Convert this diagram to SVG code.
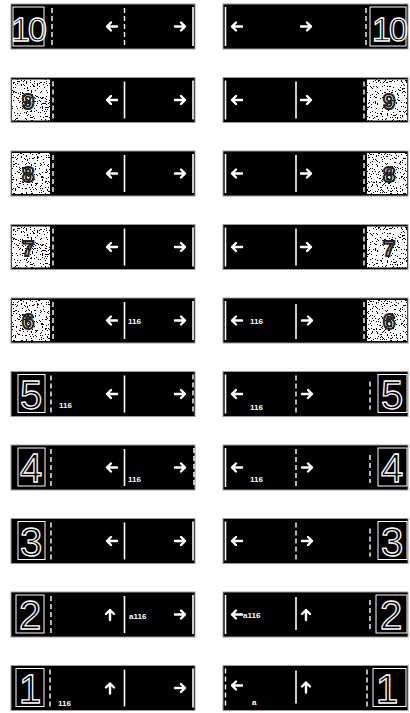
<svg xmlns="http://www.w3.org/2000/svg" width="410" height="713" viewBox="0 0 410 713">
<style>
.bar{fill:#000;stroke:#9a9a9a;stroke-width:1}
.ln{stroke:#fff;stroke-width:1.6}
.dl{stroke:#fff;stroke-width:1.4;stroke-dasharray:5 3}
.ar{fill:none;stroke:#fff;stroke-width:2.4;stroke-linecap:round;stroke-linejoin:round}
.num{font-family:"Liberation Sans",Arial,sans-serif;font-size:40px;fill:none;stroke:#fff;stroke-width:1.3;text-anchor:middle}
.n10{font-size:34px;letter-spacing:-2px}
.sm{font-family:"Liberation Sans",Arial,sans-serif;font-size:8px;font-weight:bold;fill:#fff}
.frame{fill:none;stroke:#fff;stroke-width:1}
.pic{font-family:"Liberation Sans",Arial,sans-serif;font-size:22px;font-weight:bold;fill:none;stroke:#222;stroke-width:2;text-anchor:middle}
.sp{fill:#fff;filter:url(#speckle)}
</style>
<defs>
<filter id="speckle" x="0" y="0" width="1" height="1" filterUnits="objectBoundingBox" color-interpolation-filters="sRGB">
<feTurbulence type="fractalNoise" baseFrequency="0.8" numOctaves="2" seed="4" result="n"/>
<feColorMatrix in="n" type="saturate" values="0" result="g"/>
<feComponentTransfer in="g" result="t">
<feFuncR type="discrete" tableValues="0 0 0 0 1 1 1 1 1 1"/>
<feFuncG type="discrete" tableValues="0 0 0 0 1 1 1 1 1 1"/>
<feFuncB type="discrete" tableValues="0 0 0 0 1 1 1 1 1 1"/>
<feFuncA type="linear" slope="0" intercept="1"/>
</feComponentTransfer>
<feComposite in="t" in2="SourceGraphic" operator="in"/>
</filter>
<path id="al" class="ar" d="M5,0H-5M-1,-4L-5,0L-1,4"/>
<path id="arr" class="ar" d="M-5,0H5M1,-4L5,0L1,4"/>
<path id="au" class="ar" d="M0,5V-5M-4,-1L0,-5L4,-1"/>
</defs>
<rect width="410" height="713" fill="#fff"/>

<!-- Row 10 -->
<g id="sign-L10" transform="translate(0,4)">
<rect class="bar" x="11" y="0" width="184" height="45"/>
<rect class="frame" x="13" y="3" width="31" height="39"/>
<text class="num n10" x="28" y="37">10</text>
<line class="dl" x1="52" y1="4" x2="52" y2="41"/>
<use href="#al" x="112" y="22.5"/>
<line class="dl" x1="124.5" y1="4" x2="124.5" y2="41"/>
<use href="#arr" x="180" y="22.5"/>
<line class="ln" x1="193" y1="3" x2="193" y2="42"/>
</g>
<g id="sign-R10" transform="translate(0,4)">
<rect class="bar" x="223" y="0" width="185" height="45"/>
<line class="ln" x1="225.5" y1="3" x2="225.5" y2="42"/>
<use href="#al" x="237" y="22.5"/>
<use href="#arr" x="306" y="22.5"/>
<line class="dl" x1="366" y1="4" x2="366" y2="41"/>
<rect class="frame" x="370" y="3" width="36" height="39"/>
<text class="num n10" x="389" y="37">10</text>
</g>

<!-- Row 9 -->
<g id="sign-L9" transform="translate(0,77.5)">
<rect class="bar" x="11" y="0" width="184" height="45"/>
<rect class="sp" x="12" y="2" width="38" height="41"/>
<text class="pic" x="28" y="31">9</text>
<line class="dl" x1="53" y1="4" x2="53" y2="41"/>
<use href="#al" x="112" y="22.5"/>
<line class="ln" x1="124.5" y1="4" x2="124.5" y2="41"/>
<use href="#arr" x="180" y="22.5"/>
<line class="ln" x1="193" y1="3" x2="193" y2="42"/>
</g>
<g id="sign-R9" transform="translate(0,77.5)">
<rect class="bar" x="223" y="0" width="185" height="45"/>
<line class="ln" x1="225.5" y1="3" x2="225.5" y2="42"/>
<use href="#al" x="237" y="22.5"/>
<line class="ln" x1="296" y1="4" x2="296" y2="41"/>
<use href="#arr" x="306" y="22.5"/>
<line class="dl" x1="364" y1="4" x2="364" y2="41"/>
<rect class="sp" x="367" y="2" width="40" height="41"/>
<text class="pic" x="389" y="31">9</text>
</g>

<!-- Row 8 -->
<g id="sign-L8" transform="translate(0,151)">
<rect class="bar" x="11" y="0" width="184" height="45"/>
<rect class="sp" x="12" y="2" width="38" height="41"/>
<text class="pic" x="28" y="31">8</text>
<line class="dl" x1="53" y1="4" x2="53" y2="41"/>
<use href="#al" x="112" y="22.5"/>
<line class="ln" x1="124.5" y1="4" x2="124.5" y2="41"/>
<use href="#arr" x="180" y="22.5"/>
<line class="ln" x1="193" y1="3" x2="193" y2="42"/>
</g>
<g id="sign-R8" transform="translate(0,151)">
<rect class="bar" x="223" y="0" width="185" height="45"/>
<line class="ln" x1="225.5" y1="3" x2="225.5" y2="42"/>
<use href="#al" x="237" y="22.5"/>
<line class="ln" x1="296" y1="4" x2="296" y2="41"/>
<use href="#arr" x="306" y="22.5"/>
<line class="dl" x1="364" y1="4" x2="364" y2="41"/>
<rect class="sp" x="367" y="2" width="40" height="41"/>
<text class="pic" x="389" y="31">8</text>
</g>

<!-- Row 7 -->
<g id="sign-L7" transform="translate(0,224.5)">
<rect class="bar" x="11" y="0" width="184" height="45"/>
<rect class="sp" x="12" y="2" width="38" height="41"/>
<text class="pic" x="28" y="31">7</text>
<line class="dl" x1="53" y1="4" x2="53" y2="41"/>
<use href="#al" x="112" y="22.5"/>
<line class="ln" x1="124.5" y1="4" x2="124.5" y2="41"/>
<use href="#arr" x="180" y="22.5"/>
<line class="ln" x1="193" y1="3" x2="193" y2="42"/>
</g>
<g id="sign-R7" transform="translate(0,224.5)">
<rect class="bar" x="223" y="0" width="185" height="45"/>
<line class="ln" x1="225.5" y1="3" x2="225.5" y2="42"/>
<use href="#al" x="237" y="22.5"/>
<line class="ln" x1="296" y1="4" x2="296" y2="41"/>
<use href="#arr" x="306" y="22.5"/>
<line class="dl" x1="364" y1="4" x2="364" y2="41"/>
<rect class="sp" x="367" y="2" width="40" height="41"/>
<text class="pic" x="389" y="31">7</text>
</g>

<!-- Row 6 -->
<g id="sign-L6" transform="translate(0,298)">
<rect class="bar" x="11" y="0" width="184" height="45"/>
<rect class="sp" x="12" y="2" width="38" height="41"/>
<text class="pic" x="28" y="31">6</text>
<line class="dl" x1="53" y1="4" x2="53" y2="41"/>
<use href="#al" x="112" y="22.5"/>
<line class="ln" x1="124.5" y1="4" x2="124.5" y2="41"/>
<text class="sm" x="128" y="26">116</text>
<use href="#arr" x="180" y="22.5"/>
<line class="ln" x1="193" y1="3" x2="193" y2="42"/>
</g>
<g id="sign-R6" transform="translate(0,298)">
<rect class="bar" x="223" y="0" width="185" height="45"/>
<line class="ln" x1="225.5" y1="3" x2="225.5" y2="42"/>
<use href="#al" x="237" y="22.5"/>
<text class="sm" x="250" y="26">116</text>
<line class="ln" x1="296" y1="6" x2="296" y2="41"/>
<use href="#arr" x="307" y="22.5"/>
<line class="dl" x1="364" y1="4" x2="364" y2="41"/>
<rect class="sp" x="367" y="2" width="40" height="41"/>
<text class="pic" x="389" y="31">6</text>
</g>

<!-- Row 5 -->
<g id="sign-L5" transform="translate(0,371.5)">
<rect class="bar" x="11" y="0" width="184" height="45"/>
<rect class="frame" x="18" y="3" width="27" height="38"/>
<text class="num" x="31" y="37">5</text>
<line class="dl" x1="51" y1="4" x2="51" y2="41"/>
<text class="sm" x="59" y="36">116</text>
<use href="#al" x="112" y="22.5"/>
<line class="ln" x1="124.5" y1="4" x2="124.5" y2="41"/>
<use href="#arr" x="180" y="22.5"/>
<line class="dl" x1="193" y1="3" x2="193" y2="42"/>
</g>
<g id="sign-R5" transform="translate(0,371.5)">
<rect class="bar" x="223" y="0" width="185" height="45"/>
<line class="ln" x1="225.5" y1="3" x2="225.5" y2="42"/>
<use href="#al" x="237" y="22.5"/>
<text class="sm" x="250" y="38">116</text>
<line class="dl" x1="296" y1="4" x2="296" y2="41"/>
<use href="#arr" x="307" y="22.5"/>
<line class="dl" x1="370" y1="10" x2="370" y2="38"/>
<rect class="frame" x="378" y="3" width="29" height="38"/>
<text class="num" x="392" y="37">5</text>
</g>

<!-- Row 4 -->
<g id="sign-L4" transform="translate(0,445)">
<rect class="bar" x="11" y="0" width="184" height="45"/>
<rect class="frame" x="18" y="3" width="27" height="38"/>
<text class="num" x="31" y="37">4</text>
<line class="dl" x1="51" y1="4" x2="51" y2="41"/>
<use href="#al" x="112" y="22.5"/>
<line class="ln" x1="124.5" y1="4" x2="124.5" y2="41"/>
<text class="sm" x="128" y="37">116</text>
<use href="#arr" x="180" y="22.5"/>
<line class="dl" x1="194" y1="3" x2="194" y2="42"/>
</g>
<g id="sign-R4" transform="translate(0,445)">
<rect class="bar" x="223" y="0" width="185" height="45"/>
<line class="ln" x1="225.5" y1="3" x2="225.5" y2="42"/>
<use href="#al" x="237" y="22.5"/>
<text class="sm" x="250" y="37">116</text>
<line class="dl" x1="296" y1="4" x2="296" y2="41"/>
<use href="#arr" x="307" y="22.5"/>
<line class="dl" x1="370" y1="10" x2="370" y2="38"/>
<rect class="frame" x="378" y="3" width="29" height="38"/>
<text class="num" x="392" y="37">4</text>
</g>

<!-- Row 3 -->
<g id="sign-L3" transform="translate(0,518.5)">
<rect class="bar" x="11" y="0" width="184" height="45"/>
<rect class="frame" x="18" y="3" width="27" height="38"/>
<text class="num" x="31" y="37">3</text>
<line class="dl" x1="51" y1="4" x2="51" y2="41"/>
<use href="#al" x="112" y="22.5"/>
<line class="ln" x1="124.5" y1="4" x2="124.5" y2="41"/>
<use href="#arr" x="180" y="22.5"/>
<line class="ln" x1="193" y1="3" x2="193" y2="42"/>
</g>
<g id="sign-R3" transform="translate(0,518.5)">
<rect class="bar" x="223" y="0" width="185" height="45"/>
<line class="ln" x1="225.5" y1="3" x2="225.5" y2="42"/>
<use href="#al" x="237" y="22.5"/>
<line class="dl" x1="296" y1="4" x2="296" y2="41"/>
<use href="#arr" x="307" y="22.5"/>
<line class="dl" x1="370" y1="10" x2="370" y2="38"/>
<rect class="frame" x="378" y="3" width="29" height="38"/>
<text class="num" x="392" y="37">3</text>
</g>

<!-- Row 2 -->
<g id="sign-L2" transform="translate(0,592)">
<rect class="bar" x="11" y="0" width="184" height="45"/>
<rect class="frame" x="16" y="3" width="28" height="38"/>
<text class="num" x="30" y="37">2</text>
<line class="dl" x1="51" y1="4" x2="51" y2="41"/>
<use href="#au" x="110" y="23"/>
<line class="ln" x1="124.5" y1="4" x2="124.5" y2="41"/>
<text class="sm" x="129" y="27">a116</text>
<use href="#arr" x="180" y="22.5"/>
<line class="ln" x1="193" y1="3" x2="193" y2="42"/>
</g>
<g id="sign-R2" transform="translate(0,592)">
<rect class="bar" x="223" y="0" width="185" height="45"/>
<line class="ln" x1="225.5" y1="3" x2="225.5" y2="42"/>
<use href="#al" x="237" y="22.5"/>
<text class="sm" x="243" y="26">a116</text>
<line class="ln" x1="296" y1="5" x2="296" y2="38"/>
<use href="#au" x="306" y="23"/>
<line class="dl" x1="370" y1="8" x2="370" y2="40"/>
<rect class="frame" x="376" y="3" width="31" height="38"/>
<text class="num" x="391" y="37">2</text>
</g>

<!-- Row 1 -->
<g id="sign-L1" transform="translate(0,665.5)">
<rect class="bar" x="11" y="0" width="184" height="45"/>
<rect class="frame" x="16" y="3" width="28" height="38"/>
<text class="num" x="30" y="37">1</text>
<line class="dl" x1="50" y1="4" x2="50" y2="41"/>
<text class="sm" x="58" y="40">116</text>
<use href="#au" x="110" y="23"/>
<line class="ln" x1="124.5" y1="4" x2="124.5" y2="41"/>
<use href="#arr" x="180" y="22.5"/>
<line class="ln" x1="193" y1="3" x2="193" y2="42"/>
</g>
<g id="sign-R1" transform="translate(0,665.5)">
<rect class="bar" x="223" y="0" width="185" height="45"/>
<line class="dl" x1="225.5" y1="3" x2="225.5" y2="42"/>
<use href="#al" x="237" y="20"/>
<text class="sm" x="252" y="39">a</text>
<line class="ln" x1="296" y1="5" x2="296" y2="38"/>
<use href="#au" x="306" y="22"/>
<line class="dl" x1="367" y1="4" x2="367" y2="41"/>
<rect class="frame" x="373" y="3" width="33" height="38"/>
<text class="num" x="387" y="37">1</text>
</g>
</svg>
